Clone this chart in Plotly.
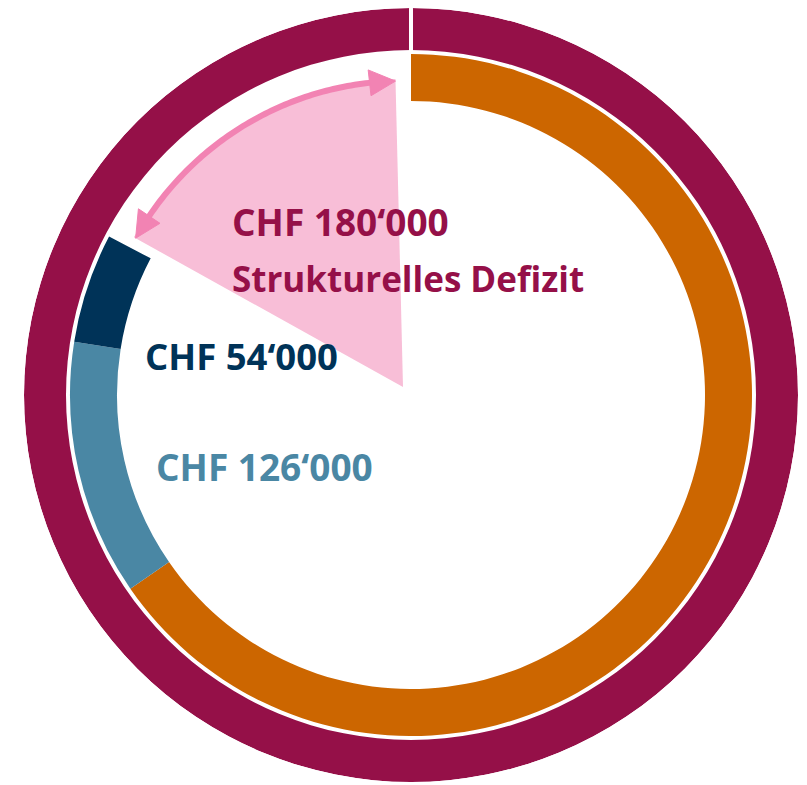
import numpy as np
import plotly.graph_objects as go

# ---------------- data ----------------
segment_labels = ["Übriger Aufwand", "CHF 126‘000", "CHF 54‘000", "Strukturelles Defizit"]
segment_values = [680000, 126000, 54000, 180000]
ring_colors = ["#CC6600", "#4A87A4", "#003358"]
outer_label = "Gesamtaufwand"
outer_value = sum(segment_values)

label_deficit_amount = "CHF 180‘000"
label_deficit_text = "Strukturelles Defizit"
label_navy = "CHF 54‘000"
label_blue = "CHF 126‘000"

# ---------------- colours / geometry (style) ----------------
MAROON = "#951048"
PINK_FILL = "#F8BED7"
PINK_ARROW = "#F283B3"
W, H = 807, 785
SHIFT = 8                               # page body margin in the browser
CX, CY, R_OUT = 411, 395, 387           # ring centre (screen px) and outer radius
WCX, WCY, WR = 403, 387, 320            # wedge subplot centre / radius (screen px)
OUTER_BASE = 345
INNER_BASE, INNER_LEN = 294, 47
WEDGE_R = 308
ARROW_R = 306
HEAD_LEN, HEAD_HALF = 26, 13
WEDGE_SHRINK = 0.955

def dom(cx, cy, r):
    cx, cy = cx - SHIFT, cy - SHIFT
    return dict(x=[max(0, (cx - r) / W), min(1, (cx + r) / W)],
                y=[max(0, (H - cy - r) / H), min(1, (H - cy + r) / H)])

total = sum(segment_values)
spans = [v / total * 360 for v in segment_values]
starts = np.concatenate([[0], np.cumsum(spans)[:-1]])
mids = [s + w / 2 for s, w in zip(starts, spans)]

fig = go.Figure()

# wedge (structural deficit) in its own polar subplot
def_span = spans[3] * WEDGE_SHRINK
def_mid = mids[3]
fig.add_trace(go.Barpolar(
    subplot="polar", theta=[def_mid], width=[def_span], base=0, r=[WEDGE_R],
    marker=dict(color=PINK_FILL, line=dict(width=0)), name=segment_labels[3],
    hoverinfo="skip", showlegend=False))

a0 = def_mid - def_span / 2
a1 = def_mid + def_span / 2
head_deg = np.degrees(HEAD_LEN / ARROW_R)
arc_theta = np.linspace(a0 + head_deg * 0.6, a1 - head_deg * 0.6, 80)
fig.add_trace(go.Scatterpolar(
    subplot="polar", theta=arc_theta, r=[ARROW_R] * len(arc_theta), mode="lines",
    line=dict(color=PINK_ARROW, width=6), hoverinfo="skip", showlegend=False))
for tip, back in [(a1, a1 - head_deg), (a0, a0 + head_deg)]:
    fig.add_trace(go.Scatterpolar(
        subplot="polar", theta=[tip, back, back, tip],
        r=[ARROW_R, ARROW_R - HEAD_HALF, ARROW_R + HEAD_HALF, ARROW_R],
        mode="lines", fill="toself", fillcolor=PINK_ARROW,
        line=dict(color=PINK_ARROW, width=1), hoverinfo="skip", showlegend=False))

# rings
fig.add_trace(go.Barpolar(
    subplot="polar2", theta=[180], width=[outer_value / total * 360], base=OUTER_BASE,
    r=[R_OUT - OUTER_BASE], marker=dict(color=MAROON, line=dict(width=0)), name=outer_label,
    hoverinfo="skip", showlegend=False))
fig.add_trace(go.Barpolar(
    subplot="polar2", theta=mids[:3], width=spans[:3], base=INNER_BASE,
    r=[INNER_LEN] * 3, marker=dict(color=ring_colors, line=dict(width=0)),
    text=segment_labels[:3], hoverinfo="skip", showlegend=False))
fig.add_trace(go.Scatterpolar(
    subplot="polar2", theta=[0, 0], r=[OUTER_BASE - 4, R_OUT], mode="lines",
    line=dict(color="white", width=4), hoverinfo="skip", showlegend=False))

axis_common = dict(bgcolor="rgba(0,0,0,0)",
                   angularaxis=dict(visible=False, rotation=90, direction="clockwise",
                                    showgrid=False, showline=False, ticks=""),
                   )
fig.update_layout(
    width=W, height=H, margin=dict(l=0, r=0, t=0, b=0),
    paper_bgcolor="white", plot_bgcolor="white", template="none",
    polar=dict(domain=dom(WCX, WCY, WR),
               radialaxis=dict(visible=False, range=[0, WR], showgrid=False),
               **axis_common),
    polar2=dict(domain=dom(CX, CY, R_OUT),
                radialaxis=dict(visible=False, range=[0, R_OUT], showgrid=False),
                **axis_common),
    showlegend=False,
)

FONT = "Open Sans"
def add_text(text, x_px, y_px, color, size):
    fig.add_annotation(text=f"<b>{text}</b>", x=(x_px - SHIFT - 3) / W,
                       y=(H - (y_px - SHIFT)) / H,
                       xref="paper", yref="paper", xanchor="left", yanchor="middle",
                       showarrow=False, font=dict(family=FONT, size=size, color=color))

add_text(label_deficit_amount, 233, 221, MAROON, 37)
add_text(label_deficit_text, 233, 278, MAROON, 35)
add_text(label_navy, 146, 356, ring_colors[2], 36.5)
add_text(label_blue, 157, 466, ring_colors[1], 37)

fig.write_html("out.html")
